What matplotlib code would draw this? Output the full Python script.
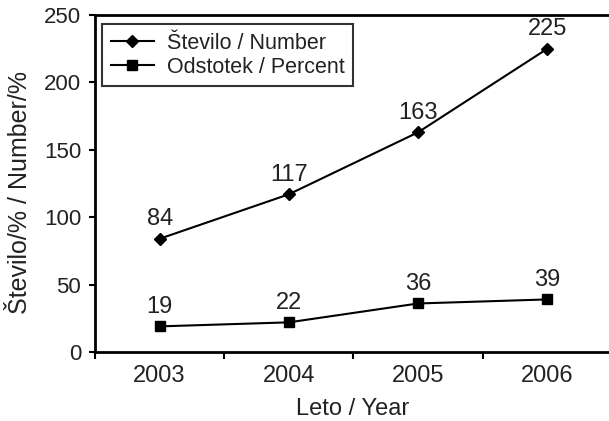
import matplotlib
matplotlib.use("Agg")
import matplotlib.pyplot as plt

plt.rcParams['font.family'] = ['Liberation Sans', 'DejaVu Sans']

years = ["2003", "2004", "2005", "2006"]
number = [84, 117, 163, 225]
percent = [19, 22, 36, 39]

fig = plt.figure(figsize=(6.09, 4.21), dpi=100)
W, H = 609, 421
ax = fig.add_axes([95 / W, 1 - 352 / H, (612 - 95) / W, (352 - 15) / H])

x = list(range(len(years)))
ax.plot(x, number, color='black', lw=1.5, marker='D', ms=6, label='Število / Number')
ax.plot(x, percent, color='black', lw=1.5, marker='s', ms=7, label='Odstotek / Percent')

for xi, v in zip(x, number):
    ax.annotate(str(v), (xi, v), textcoords='offset points', xytext=(0, 6),
                ha='center', va='bottom', fontsize=17, color='#222222')
for xi, v in zip(x, percent):
    ax.annotate(str(v), (xi, v), textcoords='offset points', xytext=(0, 6),
                ha='center', va='bottom', fontsize=17, color='#222222')

ax.set_xlim(-0.5, len(years) - 0.5)
ax.set_ylim(0, 250)
ax.set_yticks(range(0, 251, 50))
ax.set_xticks(x)
ax.set_xticklabels(years, fontsize=17, color='#222222')
ax.set_xticks([i + 0.5 for i in range(-1, len(years))], minor=True)
ax.tick_params(axis='x', which='major', length=0, pad=9)
ax.tick_params(axis='x', which='minor', length=5, width=1.5, direction='out')
ax.tick_params(axis='y', labelsize=16, length=4, width=1.5, direction='out',
               pad=6, labelcolor='#222222')

for s in ax.spines.values():
    s.set_linewidth(2)

ax.set_xlabel('Leto / Year', fontsize=17, color='#222222')
ax.xaxis.set_label_coords((353 - 95) / (612 - 95), (352 - 409) / 337)
ax.xaxis.label.set_va('center')
ax.set_ylabel('Število/% / Number/%', fontsize=18, color='#222222')
ax.yaxis.set_label_coords((20 - 95) / (612 - 95), (352 - 193) / 337)
ax.yaxis.label.set_va('center')

leg = ax.legend(loc='upper left', bbox_to_anchor=(102 / W, 1 - 24 / H),
                bbox_transform=fig.transFigure, fontsize=15.5, frameon=True,
                fancybox=False, edgecolor='black', borderpad=0.4,
                labelspacing=0.15, handlelength=2.0, handletextpad=0.6,
                borderaxespad=0)
leg.get_frame().set_linewidth(1.5)
for t in leg.get_texts():
    t.set_color('#222222')

fig.savefig('out.png', dpi=100)
